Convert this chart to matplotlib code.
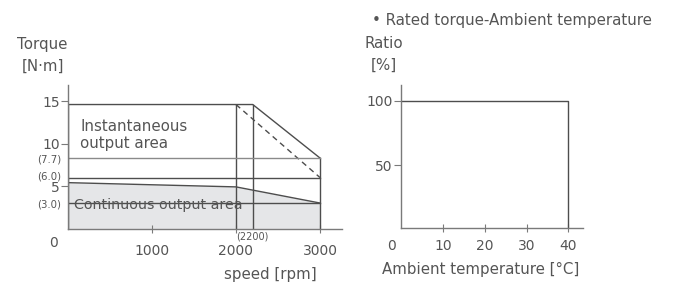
import matplotlib
matplotlib.use("Agg")
import matplotlib.pyplot as plt
import matplotlib.transforms as mtransforms
import numpy as np

plt.rcParams['font.family'] = ['DejaVu Sans']

# ---- data: speed-torque chart ----
inst_speed = [0, 2200, 3000]
inst_torque = [14.6, 14.6, 8.3]
dashed_speed = [2000, 3000]
dashed_torque = [14.6, 6.0]
cont_speed = [0, 2000, 3000]
cont_torque = [5.4, 4.9, 3.0]
ref_levels = [8.3, 6.0, 3.0]
ref_labels = ["(7.7)", "(6.0)", "(3.0)"]
vlines_speed = [2000, 2200]
speed_ticks = [1000, 2000, 3000]
torque_ticks = [5, 10, 15]

# ---- data: rated torque vs ambient temperature ----
temp = [0, 40, 40]
ratio = [100, 100, 0]
temp_ticks = [10, 20, 30, 40]
ratio_ticks = [50, 100]

W, H = 673, 283
fig = plt.figure(figsize=(W/100, H/100), dpi=100)
TXT = '#555555'
LINE = '#4d4d4d'
AX = '#7a7a7a'
FS = 10.8
TFS = 10

def fx(px):
    return px / W

def fy(py):
    return 1 - py / H

# ----- left chart -----
ax = fig.add_axes([fx(68), fy(228.5), fx(342) - fx(68), fy(85) - fy(228.5)])
ax.set_xlim(0, 3262)
ax.set_ylim(0, 16.9)
ax.fill_between(cont_speed, cont_torque, 0, color='#e5e6e8', lw=0)
ax.plot(cont_speed, cont_torque, color=LINE, lw=1.0)
ax.plot(inst_speed, inst_torque, color=LINE, lw=1.0)
ax.plot(dashed_speed, dashed_torque, color=LINE, lw=1.0, ls=(0, (4, 3)))
for s in vlines_speed:
    ax.plot([s, s], [0, inst_torque[0]], color=LINE, lw=1.0)
ax.plot([inst_speed[-1], inst_speed[-1]], [0, inst_torque[-1]], color=LINE, lw=1.0)
for lv, c in zip(ref_levels, ['#8a8a8a', LINE, LINE]):
    ax.plot([0, inst_speed[-1]], [lv, lv], color=c, lw=1.0)
ax.plot([0, 0], [0, inst_torque[0]], color=LINE, lw=1.0)

for sp in ['top', 'right']:
    ax.spines[sp].set_visible(False)
for sp in ['left', 'bottom']:
    ax.spines[sp].set_color(AX)
    ax.spines[sp].set_linewidth(1.0)
ax.set_xticks(speed_ticks)
ax.set_xticklabels([str(t) for t in speed_ticks])
ax.set_yticks(torque_ticks)
ax.set_yticklabels([str(t) for t in torque_ticks])
ax.set_yticks(ref_levels, minor=True)
ax.set_yticklabels(ref_labels, minor=True)
ax.tick_params(axis='x', direction='inout', length=6, width=0.8, color=AX,
               labelsize=TFS, labelcolor=TXT, pad=8)
ax.tick_params(axis='y', which='major', direction='out', length=5, width=0.8, color=AX,
               labelsize=TFS, labelcolor=TXT, pad=1)
ax.tick_params(axis='y', which='minor', length=0, labelsize=7.3, labelcolor=TXT, pad=5)
# nudge the crowded "(6.0)" label up slightly
up = mtransforms.ScaledTranslation(0, 2.0 / 100, fig.dpi_scale_trans)
for lab in ax.get_yticklabels(minor=True):
    if lab.get_text() == "(6.0)":
        lab.set_transform(lab.get_transform() + up)

ax.text(143, 11.0, "Instantaneous\noutput area", fontsize=FS, color=TXT,
        va='center', ha='left', linespacing=1.12)
ax.text(70, 2.75, "Continuous output area", fontsize=10.3, color=TXT,
        va='center', ha='left')
ax.text(2200, -0.4, "(2200)", fontsize=7, color=TXT, ha='center', va='top')

fig.text(fx(53), fy(243), "0", fontsize=TFS, color=TXT, ha='center', va='center')
fig.text(fx(270), fy(275), "speed [rpm]", fontsize=FS, color=TXT, ha='center', va='center')
fig.text(fx(17), fy(45), "Torque", fontsize=FS, color=TXT, ha='left', va='center')
fig.text(fx(22), fy(66.7), "[N·m]", fontsize=FS, color=TXT, ha='left', va='center')

# ----- right chart -----
ax2 = fig.add_axes([fx(401), fy(228), fx(582.7) - fx(401), fy(85) - fy(228)])
ax2.set_xlim(0, 43.4)
ax2.set_ylim(1.5, 112.2)
ax2.plot(temp, ratio, color=LINE, lw=1.0)
for sp in ['top', 'right']:
    ax2.spines[sp].set_visible(False)
for sp in ['left', 'bottom']:
    ax2.spines[sp].set_color(AX)
    ax2.spines[sp].set_linewidth(1.0)
ax2.set_xticks(temp_ticks)
ax2.set_xticklabels([str(t) for t in temp_ticks])
ax2.set_yticks(ratio_ticks)
ax2.set_yticklabels([str(t) for t in ratio_ticks])
ax2.tick_params(axis='x', direction='inout', length=6, width=0.8, color=AX,
                labelsize=TFS, labelcolor=TXT, pad=5)
ax2.tick_params(axis='y', direction='out', length=5, width=0.8, color=AX,
                labelsize=TFS, labelcolor=TXT, pad=1)

fig.text(fx(392), fy(246), "0", fontsize=TFS, color=TXT, ha='center', va='center')
fig.text(fx(382), fy(269), "Ambient temperature [°C]", fontsize=FS, color=TXT,
         ha='left', va='center')
fig.text(fx(372), fy(20), "• Rated torque-Ambient temperature", fontsize=FS,
         color=TXT, ha='left', va='center')
fig.text(fx(364), fy(44), "Ratio", fontsize=FS, color=TXT, ha='left', va='center')
fig.text(fx(371), fy(65), "[%]", fontsize=FS, color=TXT, ha='left', va='center')

fig.savefig("out.png", dpi=100, facecolor='white')
